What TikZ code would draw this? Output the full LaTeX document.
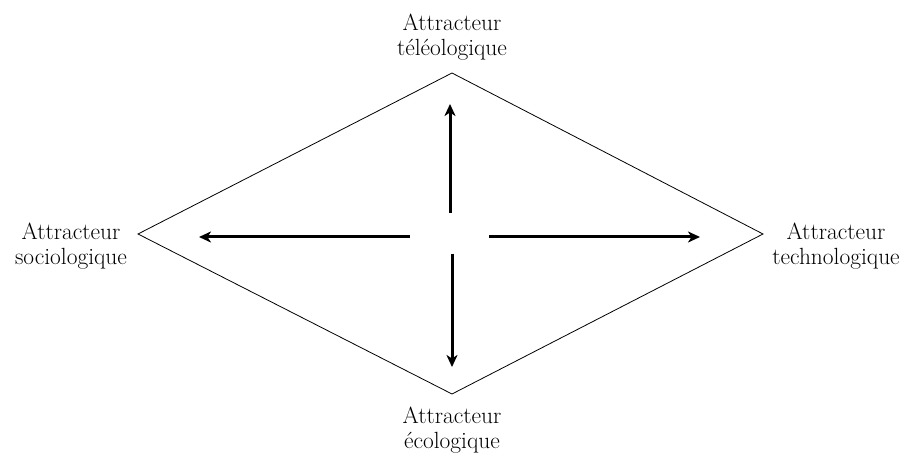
\documentclass[tikz,border=0pt]{standalone}
\usetikzlibrary{arrows.meta}
\begin{document}
\begin{tikzpicture}[x=1bp,y=-1bp,
  lbl/.style={align=center,font=\fontsize{23.5}{25}\selectfont,inner sep=0pt},
  edge/.style={line width=0.8bp,line join=miter},
  push/.style={line width=3bp,-{Stealth[length=12bp,width=11bp,inset=3.5bp]}}]
  \useasboundingbox (0,0) rectangle (904,453);
  % rhombus vertices
  \coordinate (T) at (452,73);
  \coordinate (R) at (763,234);
  \coordinate (B) at (452,394);
  \coordinate (L) at (138,234);
  \draw[edge] (T) -- (R) -- (B) -- (L) -- cycle;
  % arrows from the centre outwards
  \coordinate (cu) at (450,213);
  \coordinate (tu) at (450,104);
  \coordinate (cd) at (452,254);
  \coordinate (td) at (452,367);
  \coordinate (cl) at (410,237);
  \coordinate (tl) at (199,237);
  \coordinate (cr) at (489,237);
  \coordinate (tr) at (700,237);
  \draw[push] (cu) -- (tu);
  \draw[push] (cd) -- (td);
  \draw[push] (cl) -- (tl);
  \draw[push] (cr) -- (tr);
  % labels at the four corners
  \node[lbl] (nt) at (452,37) {Attracteur\\téléologique};
  \node[lbl] (nl) at (71,246) {Attracteur\\sociologique};
  \node[lbl] (nr) at (836,246) {Attracteur\\technologique};
  \node[lbl] (nb) at (452,430) {Attracteur\\écologique};
\end{tikzpicture}
\end{document}
